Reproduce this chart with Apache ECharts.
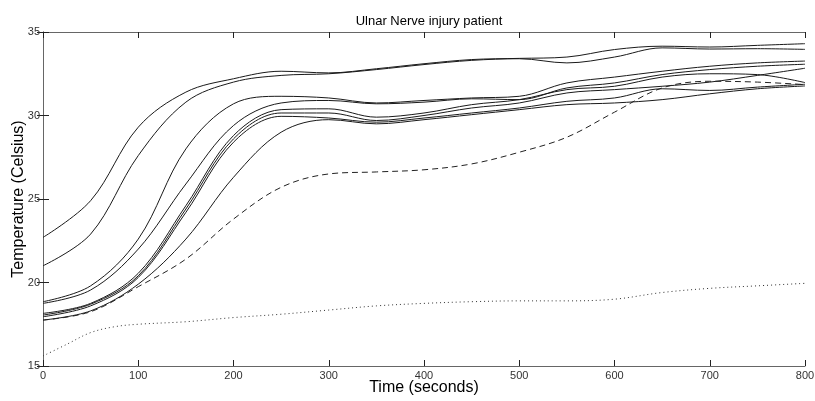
<!DOCTYPE html>
<html>
<head>
<meta charset="utf-8">
<script src="https://cdn.jsdelivr.net/npm/echarts@6/dist/echarts.min.js"></script>
<style>
  html, body { margin: 0; padding: 0; background: #fff; }
  #chart { width: 815px; height: 401px; }
</style>
</head>
<body>
<div id="chart"></div>
<script>
// Sample times (seconds) shared by the solid and dashed traces
const time = [0, 50, 100, 150, 200, 250, 300, 350, 400, 450, 500, 550, 600, 650, 700, 750, 800];

// Solid temperature traces (Celsius)
const trace1 = [22.7, 24.9, 29.3, 31.4, 32.2, 32.65, 32.55, 32.8, 33.1, 33.35, 33.42, 33.5, 33.95, 34.15, 34.1, 34.2, 34.3];
const trace2 = [21.0, 22.9, 27.6, 30.8, 32.0, 32.4, 32.5, 32.75, 33.05, 33.3, 33.4, 33.15, 33.5, 34.05, 33.98, 34.0, 33.96];
const trace3 = [18.85, 19.8, 22.6, 28.0, 30.7, 31.15, 31.05, 30.75, 30.9, 31.05, 31.15, 31.95, 32.3, 32.65, 32.95, 33.15, 33.26];
const trace4 = [18.75, 19.55, 22.0, 25.9, 29.4, 30.75, 30.9, 30.7, 30.8, 31.0, 30.95, 31.65, 31.95, 32.45, 32.75, 32.95, 33.07];
const trace5 = [18.15, 18.75, 20.55, 24.6, 28.8, 30.35, 30.4, 29.9, 30.15, 30.65, 30.95, 31.55, 31.75, 32.3, 32.5, 32.45, 31.97];
const trace6 = [18.05, 18.7, 20.4, 24.4, 28.6, 30.15, 30.15, 29.7, 30.0, 30.45, 30.75, 31.35, 31.55, 31.75, 32.0, 32.4, 32.83];
const trace7 = [17.95, 18.6, 20.3, 24.2, 28.4, 29.95, 29.85, 29.6, 29.85, 30.15, 30.45, 30.85, 31.05, 31.6, 31.5, 31.7, 31.87];
const trace8 = [17.75, 18.3, 19.9, 22.6, 26.3, 29.0, 29.75, 29.5, 29.75, 30.05, 30.35, 30.65, 30.75, 30.95, 31.3, 31.6, 31.77];

// Dashed trace
const dashedTrace = [17.75, 18.25, 19.75, 21.4, 23.8, 25.7, 26.5, 26.62, 26.75, 27.1, 27.8, 28.7, 30.2, 31.65, 32.05, 32.0, 31.85];

// Dotted trace has its own, denser start
const dottedTime = [0, 25, 50, 75, 100, 150, 200, 250, 300, 350, 400, 450, 500, 550, 600, 650, 700, 750, 800];
const dottedTrace = [15.6, 16.3, 17.0, 17.35, 17.5, 17.65, 17.9, 18.1, 18.35, 18.6, 18.75, 18.85, 18.9, 18.9, 19.0, 19.4, 19.65, 19.8, 19.95];

// Axis ticks
const xTicks = { min: 0, max: 800, interval: 100 };
const yTicks = { min: 15, max: 35, interval: 5 };

const FONT = 'Liberation Sans, Arial, sans-serif';
const pair = (xs, ys) => xs.map((x, i) => [x, ys[i]]);

const solid = [trace1, trace2, trace3, trace4, trace5, trace6, trace7, trace8];

const baseLine = (data, type, color) => ({
  type: 'line',
  data: data,
  smooth: 0.35,
  showSymbol: false,
  symbol: 'none',
  silent: true,
  lineStyle: { color: color, width: 1, type: type },
  z: 3
});

const series = solid.map(s => baseLine(pair(time, s), 'solid', '#1a1a1a'));
series.push(baseLine(pair(time, dashedTrace), [6, 4], '#222'));
series.push(baseLine(pair(dottedTime, dottedTrace), [1, 3], '#333'));

const axisLine = { show: true, lineStyle: { color: '#666', width: 1 } };
const tickStyle = { show: true, inside: true, length: 6, lineStyle: { color: '#222', width: 1 } };

const chart = echarts.init(document.getElementById('chart'), null, { renderer: 'canvas' });
chart.setOption({
  animation: false,
  backgroundColor: '#fff',
  title: {
    text: 'Ulnar Nerve injury patient',
    left: 424, top: 10, textAlign: 'center',
    textStyle: { fontFamily: FONT, fontSize: 13, fontWeight: 'normal', color: '#000' }
  },
  grid: { left: 43, right: 10, top: 32, bottom: 35, containLabel: false, outerBoundsMode: 'none' },
  xAxis: [
    {
      type: 'value', position: 'bottom', ...xTicks,
      name: 'Time (seconds)', nameLocation: 'middle', nameGap: 14, nameMoveOverlap: false,
      nameTextStyle: { fontFamily: FONT, fontSize: 16, color: '#000' },
      axisLine: axisLine, axisTick: tickStyle,
      axisLabel: { fontFamily: FONT, fontSize: 11, color: '#333', margin: 4 },
      splitLine: { show: false }
    },
    {
      type: 'value', position: 'top', ...xTicks,
      axisLine: axisLine, axisTick: tickStyle,
      axisLabel: { show: false }, splitLine: { show: false }
    }
  ],
  yAxis: [
    {
      type: 'value', position: 'left', ...yTicks,
      name: 'Temperature (Celsius)', nameLocation: 'middle', nameGap: 16, nameMoveOverlap: false,
      nameTextStyle: { fontFamily: FONT, fontSize: 16, color: '#000' },
      axisLine: axisLine, axisTick: tickStyle,
      axisLabel: { fontFamily: FONT, fontSize: 11, color: '#333', margin: 3 },
      splitLine: { show: false }
    },
    {
      type: 'value', position: 'right', ...yTicks,
      axisLine: axisLine, axisTick: tickStyle,
      axisLabel: { show: false }, splitLine: { show: false }
    }
  ],
  series: series
});
</script>
</body>
</html>
